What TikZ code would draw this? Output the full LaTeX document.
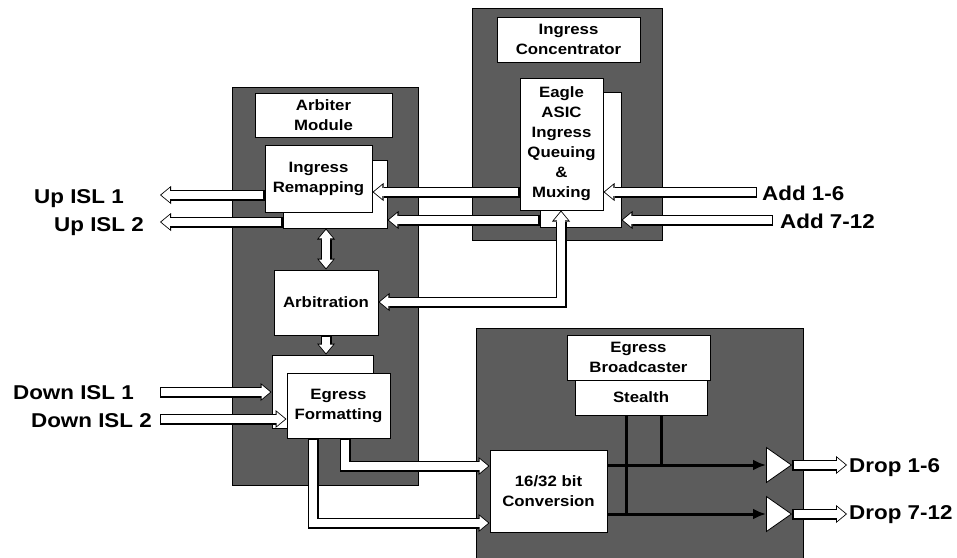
\documentclass[tikz,border=0pt]{standalone}
\usepackage{fontspec}
\newfontfamily\diafont{Liberation Sans}[FakeStretch=1.12]
\usepackage{tikz}
\usetikzlibrary{positioning,arrows.meta,shapes.geometric,calc}
\definecolor{panelgray}{RGB}{92,92,92}

\begin{document}
\begin{tikzpicture}[
    x=1pt, y=-1pt,
    panel/.style={rectangle, draw, fill=panelgray, line width=0.8pt, inner sep=0pt},
    box/.style={rectangle, draw, fill=white, line width=1pt, inner sep=0pt, align=center, font=\diafont\bfseries\fontsize{15}{20}\selectfont},
    lbl/.style={font=\diafont\bfseries\fontsize{20}{24}\selectfont, inner sep=0pt},
    amp/.style={isosceles triangle, isosceles triangle stretches, draw, fill=white, line width=0.8pt, inner sep=0pt, minimum width=35pt, minimum height=25pt},
    pipe/.style={line width=11pt, -{Triangle[length=11pt,width=18pt,line width=0pt]},
        postaction={draw=white, line width=8.6pt, shorten >=1.4pt, shorten <=1.2pt, -{Triangle[length=8.4pt,width=14pt,line width=0pt]}}},
    dpipe/.style={line width=11pt, {Triangle[length=11pt,width=18pt,line width=0pt]}-{Triangle[length=11pt,width=18pt,line width=0pt]},
        postaction={draw=white, line width=8.6pt, shorten >=1.4pt, shorten <=1.4pt, {Triangle[length=8.4pt,width=14pt,line width=0pt]}-{Triangle[length=8.4pt,width=14pt,line width=0pt]}}},
    bus/.style={line width=3pt},
    busarr/.style={bus, -{Latex[length=13pt,width=11pt]}}
]
\useasboundingbox (0,0) rectangle (957,557);

% Panels
\node[panel, minimum width=186pt, minimum height=398pt] (arbpanel) at (325,286) {};
\node[panel, minimum width=190pt, minimum height=232pt] (ingpanel) at (567,124) {};
\node[panel, minimum width=327pt, minimum height=232pt] (egrpanel) at (639.5,444) {};

% Panel titles
\node[box, minimum width=137pt, minimum height=44pt] (arbhdr) at (323.5,115) {Arbiter\\Module};
\node[box, minimum width=143pt, minimum height=45pt] (inghdr) at (568.5,39.5) {Ingress\\Concentrator};
\node[box, minimum width=143pt, minimum height=45pt] (egrhdr) at (638.5,357.5) {Egress\\Broadcaster};
\node[box, minimum width=132pt, minimum height=35pt] (stealth) at (641,397.5) {Stealth};

% Back boxes
\node[box, minimum width=104pt, minimum height=68pt] (remapback) at (335,194) {};
\node[box, minimum width=81pt, minimum height=135pt] (eagleback) at (580.5,159.5) {};
\node[box, minimum width=101pt, minimum height=73pt] (egfmtback) at (322.5,391.5) {};

% Front boxes
\node[box, minimum width=107pt, minimum height=67pt] (remap) at (318.5,178.5) {Ingress\\Remapping};
\node[box, minimum width=83pt, minimum height=132pt] (eagle) at (561.5,144) {Eagle\\ASIC\\Ingress\\Queuing\\\&\\Muxing};
\node[box, minimum width=104pt, minimum height=65pt] (arbit) at (326,302.5) {Arbitration};
\node[box, minimum width=103pt, minimum height=65pt] (egfmt) at (338.5,405.5) {Egress\\Formatting};
\node[box, minimum width=117pt, minimum height=82pt] (conv) at (548.5,491) {16/32 bit\\Conversion};

% Output buffers
\node[amp] (amp1) at (775.5,465) {};
\node[amp] (amp2) at (775.5,514) {};

% Free ends
\coordinate (up1) at (160,195);
\coordinate (up2) at (160,222);
\coordinate (dn1) at (160,392);
\coordinate (dn2) at (160,419);
\coordinate (add1) at (757,192);
\coordinate (add2) at (773,220);
\coordinate (bend) at (561,302);
\coordinate (cv1) at (345,466);
\coordinate (cv2) at (313,523);
\coordinate (drop1) at (847,465);
\coordinate (drop2) at (847,514);
\coordinate (tap1) at (661,465);
\coordinate (tap2) at (626,514);

% Labels
\node[lbl, anchor=east] (up1lbl) at (124,199) {Up ISL 1};
\node[lbl, anchor=east] (up2lbl) at (144,227) {Up ISL 2};
\node[lbl, anchor=east] (dn1lbl) at (134,393) {Down ISL 1};
\node[lbl, anchor=east] (dn2lbl) at (152,421) {Down ISL 2};
\node[lbl, anchor=west] (add1lbl) at (762,193) {Add 1-6};
\node[lbl, anchor=west] (add2lbl) at (780,221) {Add 7-12};
\node[lbl, anchor=west] (drop1lbl) at (849,468) {Drop 1-6};
\node[lbl, anchor=west] (drop2lbl) at (849,515) {Drop 7-12};

% Ingress side
\draw[pipe] (remap.west |- up1) -- (up1);
\draw[pipe] (remapback.west |- up2) -- (up2);
\draw[pipe] (eagle.west |- add1) -- (remap.east |- add1);
\draw[pipe] (eagleback.west |- add2) -- (remapback.east |- add2);
\draw[pipe] (add1) -- (eagle.east |- add1);
\draw[pipe] (add2) -- (eagleback.east |- add2);
\draw[dpipe] (eagle.south -| bend) -- (bend) -- (arbit.east |- bend);
\draw[dpipe] (arbit.north |- remapback.south) -- (arbit.north);
\draw[pipe] (arbit.south) -- (arbit.south |- egfmtback.north);

% Egress side
\draw[pipe] (dn1) -- (egfmtback.west |- dn1);
\draw[pipe] (dn2) -- (egfmt.west |- dn2);
\draw[pipe] (egfmt.south -| cv1) -- (cv1) -- (conv.west |- cv1);
\draw[pipe] (egfmt.south -| cv2) -- (cv2) -- (conv.west |- cv2);
\draw[bus] (stealth.south -| tap1) -- (tap1);
\draw[bus] (stealth.south -| tap2) -- (tap2);
\draw[busarr] (conv.east |- amp1) -- (amp1.west);
\draw[busarr] (conv.east |- amp2) -- (amp2.west);
\draw[pipe] (amp1.apex) -- (drop1);
\draw[pipe] (amp2.apex) -- (drop2);

\end{tikzpicture}
\end{document}
